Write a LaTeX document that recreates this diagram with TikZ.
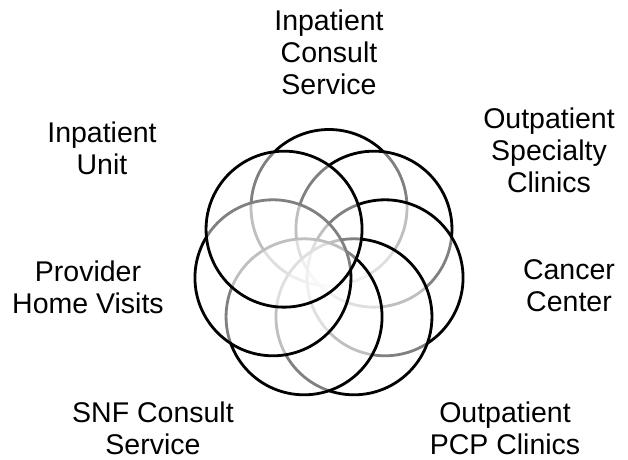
\documentclass[tikz,border=0pt]{standalone}
\usepackage{fontspec}
\setmainfont{Liberation Sans}

\begin{document}
\begin{tikzpicture}[x=1pt, y=1pt,
	ring/.style={draw=black, line width=2.8pt, fill=white, fill opacity=.5},
	lbl/.style={align=center, inner sep=0pt, font=\fontsize{28.5}{32}\selectfont}]
	\useasboundingbox (0,0) rectangle (628,459);
	\def\rad{78pt}
	\def\off{57.5pt}
	\coordinate (hub) at (329,194);

	% rings, clockwise from the top one, each laid over the one before
	\foreach \k in {0,...,6}
		\draw[ring] (hub) ++({90-\k*360/7}:\off) circle (\rad);

	\node[lbl] (inpConsult) at (329,407) {Inpatient\\Consult\\Service};
	\node[lbl] (outSpecialty) at (549,309) {Outpatient\\Specialty\\Clinics};
	\node[lbl] (cancer) at (569,173) {Cancer\\Center};
	\node[lbl] (outPCP) at (505,31) {Outpatient\\PCP Clinics};
	\node[lbl] (snf) at (153,31) {SNF Consult\\Service};
	\node[lbl] (homeVisits) at (88,172) {Provider\\Home Visits};
	\node[lbl] (inpUnit) at (102,311) {Inpatient\\Unit};
\end{tikzpicture}
\end{document}
